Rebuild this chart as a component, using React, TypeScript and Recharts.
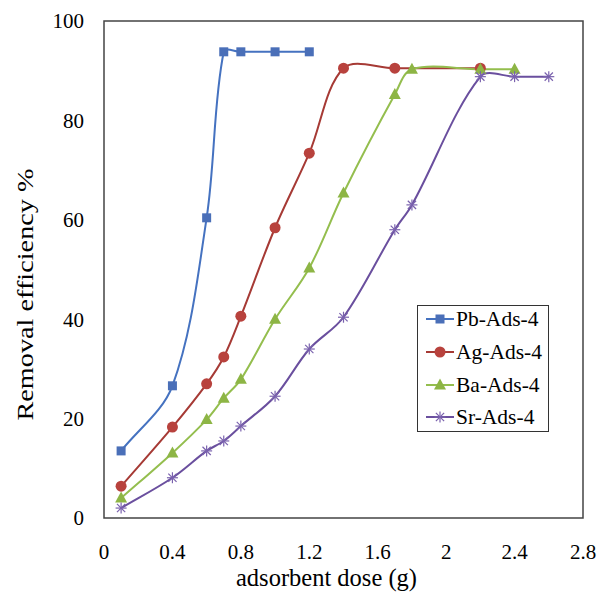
import React from "react";
import { LineChart, Line, XAxis, YAxis, Legend, ReferenceArea } from "recharts";

const xTicks = [0, 0.4, 0.8, 1.2, 1.6, 2, 2.4, 2.8];
const yTicks = [0, 20, 40, 60, 80, 100];

const pbDose = [0.1, 0.4, 0.6, 0.7, 0.8, 1.0, 1.2];
const pbEff = [13.5, 26.6, 60.4, 93.8, 93.8, 93.8, 93.8];

const agDose = [0.1, 0.4, 0.6, 0.7, 0.8, 1.0, 1.2, 1.4, 1.7, 2.2];
const agEff = [6.4, 18.3, 27.0, 32.4, 40.6, 58.4, 73.4, 90.5, 90.5, 90.5];

const baDose = [0.1, 0.4, 0.6, 0.7, 0.8, 1.0, 1.2, 1.4, 1.7, 1.8, 2.2, 2.4];
const baEff = [4.0, 13.1, 19.8, 24.1, 27.9, 40.0, 50.3, 65.4, 85.2, 90.3, 90.3, 90.3];

const srDose = [0.1, 0.4, 0.6, 0.7, 0.8, 1.0, 1.2, 1.4, 1.7, 1.8, 2.2, 2.4, 2.6];
const srEff = [2.0, 8.1, 13.5, 15.5, 18.5, 24.5, 34.0, 40.4, 58.0, 63.0, 88.8, 88.8, 88.8];

const seriesNames = ["Pb-Ads-4", "Ag-Ads-4", "Ba-Ads-4", "Sr-Ads-4"];

const FONT = "'Liberation Serif', 'Times New Roman', serif";

const zip = (xs: number[], ys: number[]) => xs.map((x, i) => ({ x, y: ys[i] }));

const series = [
  { name: seriesNames[0], data: zip(pbDose, pbEff), color: "#4572C0", marker: "#4A6FB8", shape: "square" },
  { name: seriesNames[1], data: zip(agDose, agEff), color: "#A63A35", marker: "#B8423D", shape: "circle" },
  { name: seriesNames[2], data: zip(baDose, baEff), color: "#94BE4E", marker: "#8DB545", shape: "triangle" },
  { name: seriesNames[3], data: zip(srDose, srEff), color: "#6A4F9E", marker: "#7A62AE", shape: "asterisk" },
];

// Excel-like smoothing (chord-weighted Catmull-Rom via Bezier)
const excelCurve = (context: any) => {
  let pts: number[][] = [];
  const dist = (a: number[], b: number[]) => Math.hypot(b[0] - a[0], b[1] - a[1]) || 1e-6;
  return {
    areaStart() {},
    areaEnd() {},
    lineStart() {
      pts = [];
    },
    point(x: number, y: number) {
      pts.push([+x, +y]);
    },
    lineEnd() {
      if (!pts.length) return;
      context.moveTo(pts[0][0], pts[0][1]);
      if (pts.length === 2) {
        context.lineTo(pts[1][0], pts[1][1]);
        return;
      }
      for (let i = 0; i < pts.length - 1; i++) {
        const p0 = pts[i - 1] || pts[i];
        const p1 = pts[i];
        const p2 = pts[i + 1];
        const p3 = pts[i + 2] || pts[i + 1];
        const d01 = i === 0 ? 0 : dist(p0, p1);
        const d12 = dist(p1, p2);
        const d23 = i + 2 >= pts.length ? 0 : dist(p2, p3);
        const f1 = d12 / (d01 + d12) / 3;
        const f2 = d12 / (d12 + d23) / 3;
        context.bezierCurveTo(
          p1[0] + (p2[0] - p0[0]) * f1,
          p1[1] + (p2[1] - p0[1]) * f1,
          p2[0] - (p3[0] - p1[0]) * f2,
          p2[1] - (p3[1] - p1[1]) * f2,
          p2[0],
          p2[1]
        );
      }
    },
  };
};

const Marker = ({ cx, cy, shape, color }: any) => {
  if (cx == null || cy == null) return null;
  if (shape === "square") return <rect x={cx - 4.5} y={cy - 4.5} width={9} height={9} fill={color} />;
  if (shape === "circle") return <circle cx={cx} cy={cy} r={5.5} fill={color} />;
  if (shape === "triangle")
    return <polygon points={`${cx},${cy - 6.5} ${cx + 6},${cy + 4.5} ${cx - 6},${cy + 4.5}`} fill={color} />;
  const r = 5.5;
  return (
    <g stroke={color} strokeWidth={1.2}>
      <line x1={cx - r} y1={cy} x2={cx + r} y2={cy} />
      <line x1={cx} y1={cy - r} x2={cx} y2={cy + r} />
      <line x1={cx - r * 0.75} y1={cy - r * 0.75} x2={cx + r * 0.75} y2={cy + r * 0.75} />
      <line x1={cx - r * 0.75} y1={cy + r * 0.75} x2={cx + r * 0.75} y2={cy - r * 0.75} />
    </g>
  );
};

const LegendBox = () => (
  <div
    style={{
      border: "1px solid #333",
      width: 130,
      height: 125,
      background: "#fff",
      fontFamily: FONT,
      fontSize: 21.5,
      color: "#000",
      boxSizing: "content-box",
      position: "relative",
    }}
  >
    {series.map((s, i) => (
      <div
        key={s.name}
        style={{
          position: "absolute",
          left: 0,
          top: 13 + i * 32.8 - 14,
          height: 28,
          display: "flex",
          alignItems: "center",
        }}
      >
        <svg width={38} height={28} style={{ display: "block" }}>
          <line x1={8} y1={14} x2={36} y2={14} stroke={s.color} strokeWidth={2} />
          <Marker cx={22} cy={14} shape={s.shape} color={s.marker} />
        </svg>
        <span style={{ whiteSpace: "nowrap", lineHeight: "28px" }}>{s.name}</span>
      </div>
    ))}
  </div>
);

const YTitle = (props: any) => {
  const vb = props.viewBox || {};
  const cx = (vb.x || 0) + 25;
  const cy = (vb.y || 0) + (vb.height || 0) / 2 + 25;
  return (
    <text
      x={cx}
      y={cy}
      transform={`rotate(-90, ${cx}, ${cy})`}
      textAnchor="middle"
      dominantBaseline="central"
      fontFamily={FONT}
      fontSize={24}
      textLength={252}
      lengthAdjust="spacingAndGlyphs"
      fill="#000"
    >
      Removal efficiency %
    </text>
  );
};

const XTitle = (props: any) => {
  const vb = props.viewBox || {};
  const cx = (vb.x || 0) + (vb.width || 0) / 2 - 17;
  const cy = (vb.y || 0) + (vb.height || 0) - 7;
  return (
    <text x={cx} y={cy} textAnchor="middle" fontFamily={FONT} fontSize={24.5} fill="#000">
      adsorbent dose (g)
    </text>
  );
};

export default function App() {
  return (
    <div style={{ position: "fixed", left: 0, top: 0, width: 597, height: 593, background: "#fff", overflow: "hidden" }}>
      <LineChart width={597} height={593} margin={{ top: 21, right: 14, bottom: 0, left: 0 }}>
        <XAxis
          type="number"
          dataKey="x"
          domain={[0, 2.8]}
          ticks={xTicks}
          height={75}
          tickLine={false}
          axisLine={false}
          tickSize={0}
          tickMargin={26}
          tick={{ fontSize: 21, fill: "#000", fontFamily: FONT }}
          label={<XTitle />}
        />
        <YAxis
          type="number"
          domain={[0, 100]}
          ticks={yTicks}
          width={104}
          tickLine={false}
          axisLine={false}
          tickSize={0}
          tickMargin={20}
          tick={{ fontSize: 21, fill: "#000", fontFamily: FONT }}
          label={<YTitle />}
        />
        <ReferenceArea x1={0} x2={2.8} y1={0} y2={100} fill="none" stroke="#444" strokeWidth={1.5} />
        {series.map((s) => (
          <Line
            key={s.name}
            name={s.name}
            data={s.data}
            dataKey="y"
            type={excelCurve as any}
            stroke={s.color}
            strokeWidth={2}
            isAnimationActive={false}
            dot={(p: any) => <Marker key={`${s.name}-${p.index}`} cx={p.cx} cy={p.cy} shape={s.shape} color={s.marker} />}
            activeDot={false}
          />
        ))}
        <Legend
          layout="horizontal"
          verticalAlign="middle"
          align="center"
          content={() => <LegendBox />}
          wrapperStyle={{ left: 417, top: 305, width: 132, height: 127 }}
        />
      </LineChart>
    </div>
  );
}
